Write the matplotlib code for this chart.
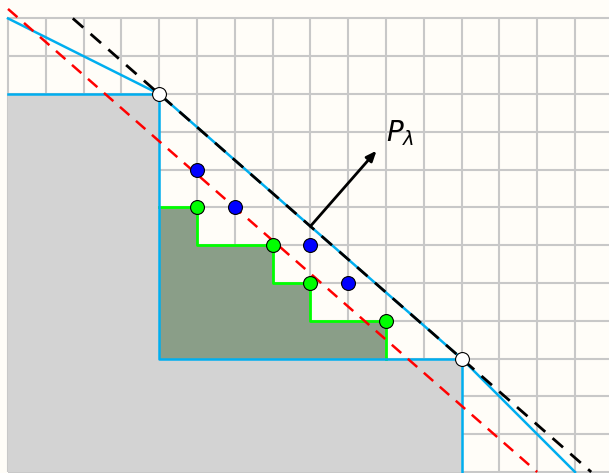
import matplotlib
matplotlib.use("Agg")
import matplotlib.pyplot as plt

# --- data ---
region_x = [0, 0, 4, 4, 12, 12]
region_y = [0, 10, 10, 3, 3, 0]
hull_x = [0, 4, 12, 15]
hull_y = [12, 10, 3, 0]
stair_x = [4, 5, 5, 7, 7, 8, 8, 10, 10]
stair_y = [7, 7, 6, 6, 5, 5, 4, 4, 3]
green_x = [5, 7, 8, 10]
green_y = [7, 6, 5, 4]
blue_x = [5, 6, 8, 9]
blue_y = [8, 7, 6, 5]
vert_x = [4, 12]
vert_y = [10, 3]
normal = (7, 8)
level_black = 108
level_red = 98
arrow_start = (8, 6.5)
arrow_end = (9.75, 8.5)
label = r"$P_\lambda$"

bg = "#FFFDF8"
fig = plt.figure(figsize=(6.09, 4.73), dpi=100, facecolor=bg)
ax = fig.add_axes([0, 0, 1, 1])
ax.set_facecolor(bg)
s = 37.8
ax.set_xlim(-8 / s, 601 / s)
ax.set_ylim(-1 / s, 472 / s)
ax.axis("off")

# grid
for y in range(0, 13):
    ax.plot([0, 17], [y, y], color="#C8C8C8", lw=1.5, zorder=1, solid_capstyle="butt")
for x in range(0, 17):
    ax.plot([x, x], [0, 12], color="#C8C8C8", lw=1.5, zorder=1, solid_capstyle="butt")

# grey region
ax.fill(region_x, region_y, color="#D3D3D3", zorder=2, lw=0)
# dark staircase region
dx = [4] + stair_x
dy = [3] + stair_y
ax.fill(dx, dy, color="#8A9E88", zorder=3, lw=0)
ax.plot(stair_x, stair_y, color="#00FF00", lw=2, zorder=4)

# blue region outline
ax.plot(region_x[1:], region_y[1:], color="#00AEEF", lw=1.8, zorder=5)
# blue hull
ax.plot(hull_x, hull_y, color="#00AEEF", lw=1.8, zorder=5)

# black dashed line 7x+8y=108 from y=12 to y=0
a, b = normal
bx = [(level_black - b * 12) / a, level_black / a]
by = [12, 0]
ax.plot(bx, by, color="black", lw=2, ls=(0, (5, 3.5)), zorder=6)
# red dashed line 7x+8y=98 from x=0 to y=0
rx = [0, level_red / a]
ry = [level_red / b, 0]
ax.plot(rx, ry, color="red", lw=1.8, ls=(0, (5, 3.5)), zorder=6)

# arrow
ax.annotate("", xy=arrow_end, xytext=arrow_start,
            arrowprops=dict(arrowstyle="-|>,head_length=0.6,head_width=0.25",
                            color="black", lw=2, shrinkA=0, shrinkB=0),
            zorder=7)
ax.text(10.0, 8.75, label, fontsize=20, ha="left", va="baseline", zorder=7)

# points
ax.plot(blue_x, blue_y, "o", color="#0000FF", mec="black", mew=0.8, ms=10, zorder=8)
ax.plot(green_x, green_y, "o", color="#00FF00", mec="black", mew=0.8, ms=10, zorder=8)
ax.plot(vert_x, vert_y, "o", mfc="white", mec="black", mew=0.8, ms=10, zorder=8)

fig.savefig("out.png", dpi=100, facecolor=bg)
